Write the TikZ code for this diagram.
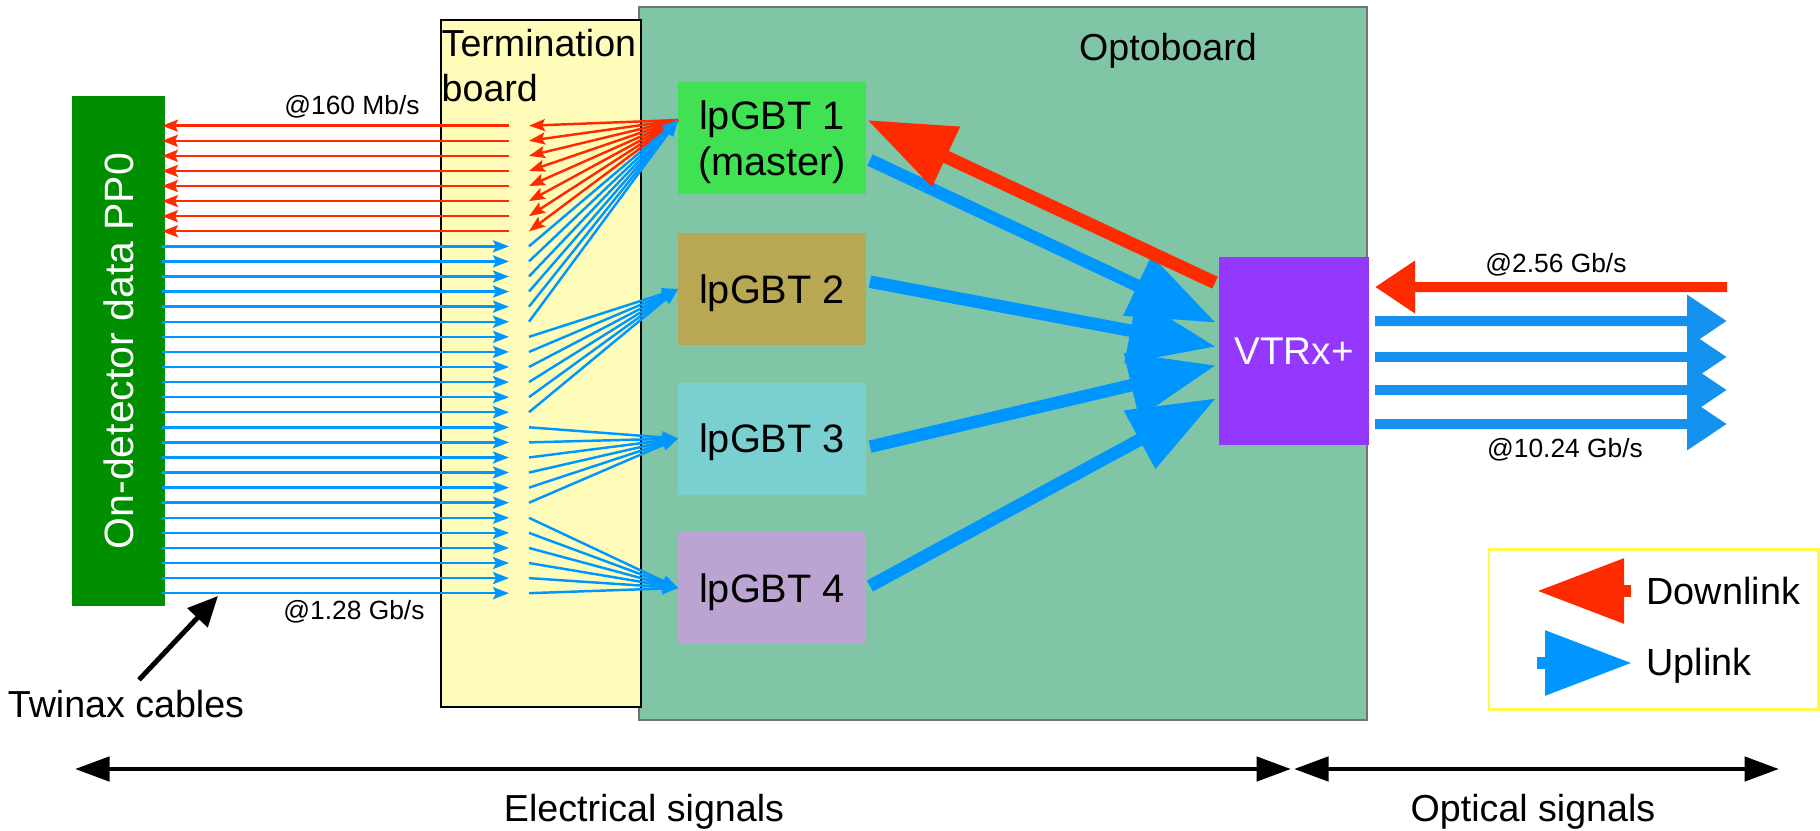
\documentclass[tikz,border=0pt]{standalone}
\usepackage{fontspec}
\setmainfont{Liberation Sans}
\usetikzlibrary{arrows.meta}

\definecolor{downred}{HTML}{FF2A00}
\definecolor{upblue}{HTML}{0096FF}
\definecolor{fuzzyblue}{HTML}{1592F0}
\definecolor{ppgreen}{HTML}{008F00}
\definecolor{optogreen}{HTML}{80C6A6}
\definecolor{termyellow}{HTML}{FFFCBA}
\definecolor{vtrxpurple}{HTML}{9437FF}

\tikzset{
  bigtext/.style={font=\fontsize{10.7}{12.8}\selectfont},
  smalltext/.style={font=\fontsize{7.5}{9}\selectfont},
  box/.style={inner sep=0pt, outer sep=0pt, bigtext},
  lpgbt/.style={box, minimum width=1.88cm, minimum height=1.12cm, align=center, text depth=0pt,
    font=\fontsize{11.3}{13.2}\selectfont},
  wire/.style={line width=0.7pt, -{Stealth[length=0.16cm,width=0.12cm,inset=0.03cm]}},
  fatwire/.style={line width=0.125cm, -{Triangle[length=0.87cm,width=0.63cm]}},
  optwire/.style={line width=0.1cm, -{Triangle[length=0.4cm,width=0.5cm]}},
  keywire/.style={line width=0.125cm, -{Triangle[length=0.87cm,width=0.62cm]}},
  span/.style={line width=1.35pt, {Triangle[length=0.345cm,width=0.24cm]}-{Triangle[length=0.345cm,width=0.24cm]}}
}

\begin{document}
\begin{tikzpicture}

\useasboundingbox (0,0) rectangle (18.2,8.3);

% Optoboard
\node [box,
    fill=optogreen,
    draw=black!55,
    line width=0.5pt,
    minimum width=7.275cm,
    minimum height=7.13cm] (opto) at (10.03,4.665){};
\node [bigtext] (optolabel) at (11.68,7.79) {Optoboard};

% Termination board
\node [box,
    fill=termyellow,
    draw=black,
    line width=0.6pt,
    minimum width=2cm,
    minimum height=6.87cm] (term) at (5.41,4.665){};
\node [bigtext,
    align=left,
    inner sep=0pt,
    anchor=west] (termlabel) at (4.41,7.64) {Termination\\board};

% PP0
\node [box,
    fill=ppgreen,
    text=white,
    rotate=90,
    font=\fontsize{11.65}{13}\selectfont,
    minimum width=5.1cm,
    minimum height=0.93cm] (pp) at (1.185,4.79) {On-detector data PP0};

% lpGBTs
\node [lpgbt, fill={rgb,255:red,64;green,226;blue,84}] (lp1) at (7.72,6.92) {lpGBT 1\\(master)};
\node [lpgbt, fill={rgb,255:red,184;green,168;blue,83}] (lp2) at (7.72,5.41) {lpGBT 2};
\node [lpgbt, fill={rgb,255:red,122;green,207;blue,208}] (lp3) at (7.72,3.915) {lpGBT 3};
\node [lpgbt, fill={rgb,255:red,187;green,164;blue,210}] (lp4) at (7.72,2.42) {lpGBT 4};

% VTRx
\node [box,
    fill=vtrxpurple,
    text=white,
    font=\fontsize{11}{13}\selectfont,
    minimum width=1.5cm,
    minimum height=1.88cm] (vtrx) at (12.94,4.79) {VTRx+};

% Wire ends
\foreach \i in {0,...,31} {
    \pgfmathsetmacro{\wy}{8.3-1.257-0.1508*\i}
    \coordinate (a\i) at (1.62,\wy);
    \coordinate (b\i) at (5.09,\wy);
    \coordinate (c\i) at (5.29,\wy);
}

% Twinax wires
\foreach \i in {0,...,7} {
    \draw [wire, downred] (b\i) -- (a\i);
    \draw [wire, downred] ([yshift=0.18cm]lp1.west) -- (c\i);
}
\foreach \i in {8,...,31} {
    \draw [wire, upblue] (a\i) -- (b\i);
}
\foreach \i in {8,...,13} {
    \draw [wire, upblue] (c\i) -- ([yshift=0.18cm]lp1.west);
}
\foreach \i in {14,...,19} {
    \draw [wire, upblue] (c\i) -- (lp2.west);
}
\foreach \i in {20,...,25} {
    \draw [wire, upblue] (c\i) -- (lp3.west);
}
\foreach \i in {26,...,31} {
    \draw [wire, upblue] (c\i) -- (lp4.west);
}

% Board links
\draw [fatwire, upblue] ([xshift=0.04cm,yshift=-0.22cm]lp1.east) -- ([xshift=-0.03cm,yshift=0.283cm]vtrx.west);
\draw [fatwire, upblue] ([xshift=0.04cm,yshift=0.073cm]lp2.east) -- ([xshift=-0.03cm,yshift=0.043cm]vtrx.west);
\draw [fatwire, upblue] ([xshift=0.04cm,yshift=-0.082cm]lp3.east) -- ([xshift=-0.03cm,yshift=-0.143cm]vtrx.west);
\draw [fatwire, upblue] ([xshift=0.04cm,yshift=0.02cm]lp4.east) -- ([xshift=-0.03cm,yshift=-0.473cm]vtrx.west);
\draw [fatwire, downred, line width=0.13cm] ([xshift=-0.04cm,yshift=0.683cm]vtrx.west) -- ([xshift=0.013cm,yshift=0.18cm]lp1.east);

% Optical links
\coordinate (optred) at (17.27,5.43);
\draw [optwire, downred] (optred) -- ([xshift=0.06cm,yshift=0.64cm]vtrx.east);
\foreach \j/\oy in {0/0.30,1/-0.06,2/-0.39,3/-0.73} {
    \coordinate (opt\j) at (17.27,4.79+\oy);
    \draw [optwire, fuzzyblue] ([xshift=0.06cm,yshift=\oy cm]vtrx.east) -- (opt\j);
}

% Rates
\node [smalltext] (rate1) at (3.52,7.23) {@160 Mb/s};
\node [smalltext] (rate2) at (3.54,2.18) {@1.28 Gb/s};
\node [smalltext] (rate3) at (15.56,5.65) {@2.56 Gb/s};
\node [smalltext] (rate4) at (15.65,3.8) {@10.24 Gb/s};

% Twinax
\node [bigtext] (twinax) at (1.26,1.26) {Twinax cables};
\coordinate (twinaxtip) at (2.18,2.34);
\draw [line width=1.4pt, -{Triangle[length=0.3cm,width=0.27cm]}] ([xshift=0.13cm,yshift=-0.02cm]twinax.north) -- (twinaxtip);

% Legend
\node [draw={rgb,255:red,255;green,249;blue,79},
    fill=white,
    line width=0.85pt,
    minimum width=3.29cm,
    minimum height=1.6cm,
    inner sep=0pt] (key) at (16.535,2.01){};
\node [anchor=west, inner sep=0pt, font=\fontsize{10.75}{12}\selectfont] (downkey) at (16.46,2.39) {Downlink};
\node [anchor=west, inner sep=0pt, font=\fontsize{10.75}{12}\selectfont] (upkey) at (16.46,1.64) {Uplink};
\draw [keywire, downred] ([xshift=-0.15cm]downkey.west) -- ++(-0.94,0);
\draw [keywire, upblue] ([xshift=-1.09cm,yshift=0.03cm]upkey.west) -- ++(0.95,0);

% Spans
\coordinate (el1) at (0.75,0.61);
\coordinate (el2) at (12.91,0.61);
\coordinate (op1) at (12.94,0.61);
\coordinate (op2) at (17.79,0.61);
\draw [span] (el1) -- (el2);
\draw [span] (op1) -- (op2);
\node [bigtext] (elabel) at (6.44,0.18) {Electrical signals};
\node [bigtext] (olabel) at (15.33,0.18) {Optical signals};

\end{tikzpicture}
\end{document}
